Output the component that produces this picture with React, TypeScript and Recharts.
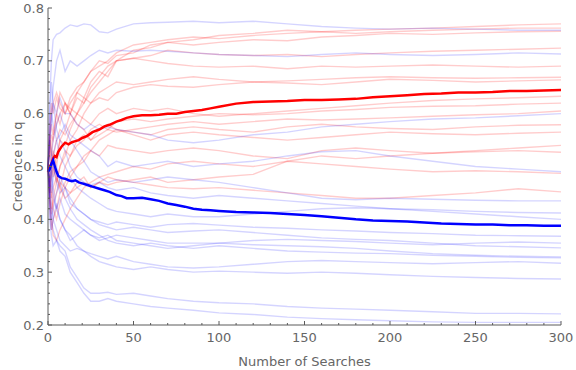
import React from 'react';
import { LineChart, Line, XAxis, YAxis } from 'recharts';

const steps = [0,1,2,3,5,7,10,13,17,21,25,30,35,40,50,60,70,85,100,120,140,160,180,200,225,250,275,300];

const meanSteps = [0,1,2,3,4,5,6, 8,10,12,14,16,18,20, 23,26,30,33,36,40,43, 46,50,55,60,65,70,75, 80,85,90,95,100,110,120, 130,140,150,160,170,180,190, 200,210,220,230,240,250,260, 270,280,290,300];
const redMean = [0.49,0.5,0.505,0.515,0.52,0.518,0.528, 0.538,0.545,0.542,0.546,0.548,0.55,0.554, 0.558,0.565,0.57,0.576,0.579,0.585,0.588, 0.592,0.595,0.597,0.597,0.598,0.6,0.6, 0.603,0.605,0.607,0.61,0.613,0.619,0.622, 0.623,0.624,0.626,0.626,0.627,0.628,0.631, 0.633,0.635,0.637,0.638,0.64,0.64,0.641, 0.643,0.643,0.644,0.645];
const blueMean = [0.49,0.495,0.505,0.512,0.5,0.49,0.482, 0.478,0.477,0.474,0.472,0.474,0.47,0.468, 0.465,0.462,0.458,0.455,0.452,0.446,0.444, 0.44,0.44,0.441,0.438,0.435,0.43,0.427, 0.424,0.42,0.418,0.417,0.416,0.414,0.413, 0.412,0.41,0.408,0.406,0.403,0.4,0.398, 0.397,0.396,0.394,0.392,0.391,0.39,0.39, 0.389,0.389,0.388,0.388];

const redRuns: number[][] = [
  [0.5,0.55,0.52,0.56,0.6,0.58,0.62, 0.6,0.64,0.66,0.68,0.69,0.7,0.715, 0.73,0.735,0.74,0.745,0.742,0.748,0.752, 0.755,0.758,0.76,0.762,0.765,0.768,0.77],
  [0.5,0.45,0.5,0.53,0.5,0.55,0.57, 0.6,0.63,0.62,0.65,0.67,0.69,0.7, 0.72,0.725,0.735,0.74,0.748,0.752,0.758, 0.755,0.752,0.755,0.758,0.76,0.762,0.762],
  [0.5,0.58,0.62,0.6,0.63,0.61,0.6, 0.63,0.65,0.66,0.68,0.7,0.695,0.71, 0.715,0.73,0.735,0.73,0.735,0.74,0.738, 0.745,0.748,0.752,0.75,0.753,0.755,0.756],
  [0.5,0.52,0.56,0.55,0.58,0.6,0.62, 0.61,0.6,0.62,0.64,0.66,0.68,0.7, 0.705,0.71,0.72,0.715,0.712,0.71,0.712, 0.708,0.712,0.715,0.718,0.72,0.722,0.724],
  [0.5,0.47,0.5,0.48,0.52,0.55,0.54, 0.57,0.6,0.63,0.66,0.68,0.67,0.7, 0.705,0.7,0.695,0.69,0.688,0.69,0.685, 0.69,0.688,0.69,0.692,0.69,0.688,0.69],
  [0.5,0.56,0.6,0.62,0.64,0.62,0.6, 0.62,0.64,0.63,0.62,0.64,0.65,0.66, 0.655,0.66,0.665,0.67,0.665,0.66,0.662, 0.665,0.668,0.67,0.668,0.667,0.668,0.669],
  [0.5,0.45,0.42,0.44,0.47,0.5,0.52, 0.55,0.57,0.6,0.62,0.63,0.625,0.64, 0.65,0.655,0.652,0.65,0.655,0.66,0.658, 0.655,0.66,0.665,0.663,0.66,0.662,0.664],
  [0.5,0.53,0.5,0.52,0.55,0.57,0.56, 0.58,0.6,0.59,0.58,0.6,0.61,0.6, 0.61,0.605,0.61,0.6,0.595,0.6,0.605, 0.61,0.615,0.62,0.625,0.628,0.63,0.633],
  [0.5,0.47,0.44,0.46,0.48,0.46,0.5, 0.52,0.54,0.55,0.57,0.58,0.57,0.585, 0.59,0.585,0.59,0.595,0.6,0.598,0.6, 0.605,0.608,0.612,0.614,0.615,0.618,0.62],
  [0.5,0.55,0.58,0.56,0.6,0.64,0.62, 0.6,0.58,0.57,0.55,0.56,0.57,0.565, 0.57,0.575,0.58,0.585,0.58,0.585,0.59, 0.588,0.59,0.592,0.595,0.598,0.6,0.605],
  [0.5,0.42,0.38,0.4,0.42,0.45,0.47, 0.49,0.5,0.52,0.53,0.55,0.56,0.57, 0.565,0.56,0.57,0.575,0.57,0.565,0.575, 0.58,0.575,0.572,0.57,0.575,0.578,0.579],
  [0.5,0.45,0.48,0.5,0.47,0.5,0.53, 0.52,0.55,0.56,0.55,0.57,0.58,0.57, 0.56,0.55,0.56,0.565,0.56,0.555,0.55, 0.555,0.56,0.565,0.562,0.56,0.563,0.565],
  [0.5,0.48,0.45,0.42,0.4,0.43,0.46, 0.48,0.5,0.51,0.53,0.52,0.54,0.535, 0.53,0.525,0.53,0.535,0.53,0.52,0.515, 0.53,0.535,0.53,0.525,0.528,0.53,0.527],
  [0.5,0.44,0.4,0.37,0.36,0.38,0.4, 0.42,0.44,0.46,0.47,0.48,0.485,0.49, 0.5,0.495,0.505,0.51,0.505,0.5,0.51, 0.505,0.5,0.495,0.49,0.492,0.49,0.487],
  [0.5,0.44,0.41,0.43,0.45,0.47,0.46, 0.45,0.47,0.48,0.46,0.47,0.48,0.475, 0.47,0.465,0.46,0.458,0.46,0.455,0.45, 0.445,0.44,0.44,0.445,0.45,0.458,0.452],
  [0.5,0.56,0.53,0.5,0.48,0.46,0.44, 0.45,0.46,0.47,0.46,0.47,0.465,0.47, 0.475,0.48,0.47,0.475,0.48,0.485,0.51, 0.52,0.515,0.52,0.525,0.53,0.535,0.54],
];

const blueRuns: number[][] = [
  [0.5,0.62,0.7,0.74,0.75,0.753,0.762, 0.768,0.765,0.77,0.768,0.755,0.753,0.76, 0.77,0.772,0.773,0.775,0.772,0.775,0.77, 0.765,0.762,0.76,0.762,0.76,0.758,0.758],
  [0.5,0.55,0.6,0.65,0.7,0.72,0.68, 0.7,0.69,0.7,0.71,0.72,0.715,0.72, 0.718,0.72,0.718,0.715,0.712,0.71,0.708, 0.712,0.715,0.712,0.71,0.712,0.715,0.713],
  [0.5,0.54,0.58,0.62,0.6,0.63,0.6, 0.6,0.58,0.57,0.58,0.57,0.575,0.57, 0.565,0.56,0.55,0.545,0.55,0.56,0.565, 0.575,0.58,0.585,0.59,0.592,0.596,0.6],
  [0.5,0.56,0.6,0.58,0.55,0.56,0.58, 0.56,0.55,0.54,0.53,0.52,0.5,0.51, 0.5,0.505,0.51,0.5,0.505,0.51,0.52, 0.528,0.53,0.52,0.51,0.5,0.495,0.49],
  [0.5,0.46,0.52,0.55,0.58,0.6,0.57, 0.55,0.53,0.51,0.49,0.48,0.47,0.475, 0.47,0.475,0.48,0.475,0.47,0.46,0.45, 0.44,0.437,0.44,0.438,0.436,0.435,0.435],
  [0.5,0.44,0.48,0.52,0.55,0.52,0.5, 0.48,0.46,0.45,0.44,0.43,0.42,0.415, 0.41,0.405,0.41,0.405,0.405,0.41,0.415, 0.42,0.422,0.42,0.418,0.415,0.413,0.412],
  [0.5,0.45,0.4,0.42,0.45,0.48,0.46, 0.43,0.42,0.41,0.4,0.395,0.39,0.395, 0.39,0.385,0.39,0.392,0.389,0.385,0.383, 0.38,0.378,0.375,0.373,0.37,0.369,0.368],
  [0.5,0.55,0.52,0.5,0.47,0.45,0.46, 0.44,0.42,0.41,0.4,0.39,0.385,0.38, 0.385,0.38,0.375,0.378,0.38,0.375,0.37, 0.365,0.362,0.36,0.355,0.35,0.348,0.346],
  [0.5,0.42,0.38,0.4,0.43,0.4,0.38, 0.36,0.37,0.38,0.37,0.36,0.365,0.37, 0.365,0.36,0.355,0.355,0.355,0.352,0.35, 0.348,0.345,0.34,0.335,0.332,0.33,0.329],
  [0.5,0.48,0.45,0.48,0.5,0.47,0.44, 0.42,0.4,0.39,0.38,0.37,0.36,0.355, 0.35,0.355,0.35,0.345,0.35,0.345,0.34, 0.338,0.336,0.335,0.332,0.33,0.328,0.327],
  [0.5,0.46,0.43,0.4,0.38,0.36,0.35, 0.34,0.345,0.34,0.335,0.33,0.325,0.33, 0.32,0.315,0.31,0.308,0.31,0.315,0.32, 0.322,0.32,0.318,0.316,0.318,0.32,0.317],
  [0.5,0.52,0.48,0.44,0.42,0.4,0.38, 0.37,0.35,0.34,0.33,0.32,0.315,0.31, 0.305,0.31,0.305,0.3,0.302,0.3,0.298, 0.3,0.298,0.295,0.292,0.29,0.288,0.287],
  [0.5,0.44,0.4,0.38,0.36,0.35,0.34, 0.31,0.29,0.27,0.26,0.26,0.262,0.258, 0.26,0.255,0.25,0.245,0.242,0.24,0.235, 0.232,0.23,0.228,0.225,0.222,0.222,0.221],
  [0.5,0.4,0.37,0.35,0.36,0.34,0.33, 0.3,0.28,0.26,0.245,0.245,0.25,0.245, 0.24,0.235,0.232,0.228,0.223,0.22,0.215, 0.212,0.21,0.208,0.206,0.205,0.205,0.205],
  [0.5,0.47,0.5,0.46,0.42,0.44,0.41, 0.4,0.39,0.38,0.37,0.365,0.37,0.36, 0.355,0.35,0.345,0.35,0.355,0.36,0.362, 0.36,0.358,0.355,0.352,0.355,0.357,0.355],
  [0.5,0.6,0.66,0.62,0.57,0.55,0.53, 0.5,0.48,0.47,0.465,0.47,0.46,0.455, 0.46,0.45,0.445,0.44,0.445,0.44,0.435, 0.43,0.425,0.42,0.415,0.41,0.405,0.4],
];

const xTicks = [0,10,20,30,40,50,60,70,80,90,100,110,120,130,140,150,160,170,180,190,200,210,220,230,240,250,260,270,280,290,300];
const yTicks = [0.2,0.22,0.24,0.26,0.28,0.3,0.32,0.34,0.36,0.38,0.4,0.42,0.44,0.46,0.48,0.5,0.52,0.54,0.56,0.58,0.6,0.62,0.64,0.66,0.68,0.7,0.72,0.74,0.76,0.78,0.8];

const runData = steps.map((s, i) => {
  const row: Record<string, number> = { s };
  redRuns.forEach((r, k) => { row['r' + k] = r[i]; });
  blueRuns.forEach((b, k) => { row['b' + k] = b[i]; });
  return row;
});

const meanData = meanSteps.map((s, i) => ({ s, rm: redMean[i], bm: blueMean[i] }));

const AXIS = '#5a5a5a';
const TEXT = '#666666';
const FONT = 'DejaVu Sans';

const XTick = (props: any) => {
  const { x, y, payload } = props;
  const v = payload.value;
  const major = Math.round(v) % 50 === 0;
  return (
    <g>
      <line x1={x} x2={x} y1={y} y2={y - (major ? 4 : 2)} stroke={AXIS} strokeWidth={1} />
      {major && (
        <text x={x} y={y + 17} textAnchor="middle" fill={TEXT} fontSize={13} fontFamily={FONT}>{v}</text>
      )}
    </g>
  );
};

const YTick = (props: any) => {
  const { x, y, payload } = props;
  const v = payload.value;
  const major = Math.abs(v * 10 - Math.round(v * 10)) < 1e-6;
  return (
    <g>
      <line x1={x} x2={x + (major ? 4 : 2)} y1={y} y2={y} stroke={AXIS} strokeWidth={1} />
      {major && (
        <text x={x - 4} y={y + 4.5} textAnchor="end" fill={TEXT} fontSize={13} fontFamily={FONT}>{v.toFixed(1)}</text>
      )}
    </g>
  );
};

export default function App() {
  return (
    <div style={{ position: 'absolute', left: 0, top: 0, background: '#fff' }}>
      <LineChart width={576} height={370} data={runData} margin={{ top: 8, right: 15, bottom: 0, left: 8 }}>
        <XAxis
          dataKey="s"
          type="number"
          domain={[0, 300]}
          ticks={xTicks}
          interval={0}
          tickSize={0}
          tickMargin={0}
          tickLine={false}
          tick={<XTick />}
          axisLine={{ stroke: AXIS }}
          height={45}
          label={{ value: 'Number of Searches', position: 'insideBottom', offset: 4, fill: TEXT, fontSize: 13, fontFamily: FONT }}
        />
        <YAxis
          type="number"
          domain={[0.2, 0.8]}
          ticks={yTicks}
          interval={0}
          tickSize={0}
          tickMargin={0}
          tickLine={false}
          tick={<YTick />}
          axisLine={{ stroke: AXIS }}
          width={40}
          allowDataOverflow
          label={{ value: 'Credence in q', angle: -90, position: 'center', dx: -11, fill: TEXT, fontSize: 13, fontFamily: FONT }}
        />
        {redRuns.map((_, k) => (
          <Line key={'r' + k} dataKey={'r' + k} type="linear" stroke="#ff0000" strokeOpacity={0.2} strokeWidth={1.4} dot={false} isAnimationActive={false} />
        ))}
        {blueRuns.map((_, k) => (
          <Line key={'b' + k} dataKey={'b' + k} type="linear" stroke="#0000ff" strokeOpacity={0.17} strokeWidth={1.4} dot={false} isAnimationActive={false} />
        ))}
        <Line data={meanData} dataKey="rm" type="linear" stroke="#ff0000" strokeWidth={2.5} dot={false} isAnimationActive={false} />
        <Line data={meanData} dataKey="bm" type="linear" stroke="#0000ff" strokeWidth={2.5} dot={false} isAnimationActive={false} />
      </LineChart>
    </div>
  );
}
